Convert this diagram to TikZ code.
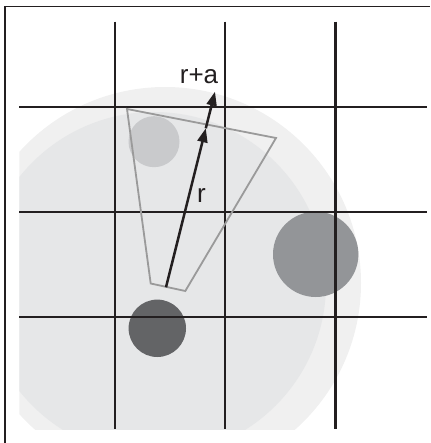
\documentclass[tikz,border=0pt]{standalone}
\usepackage{fontspec}
\setmainfont{Liberation Sans}
\usepackage{tikz}
\usetikzlibrary{arrows.meta}
\definecolor{ink}{HTML}{231F20}
\definecolor{haloout}{HTML}{F0F0F0}
\definecolor{haloin}{HTML}{E6E7E8}
\definecolor{palegrey}{HTML}{C9CACC}
\definecolor{midgrey}{HTML}{939598}
\definecolor{darkgrey}{HTML}{636466}
\definecolor{wedgegrey}{HTML}{9A9A9A}

\begin{document}
\begin{tikzpicture}[x=1pt, y=-1pt,
  gridline/.style={draw=ink, line width=2.3pt},
  wedge/.style={draw=wedgegrey, line width=1.8pt, line join=miter},
  vec/.style={draw=ink, line width=2.5pt, -{Triangle[length=14pt, width=10pt]}},
  lab/.style={font=\fontsize{26}{30}\selectfont, text=ink, inner sep=0pt}]
\useasboundingbox (0,0) rectangle (430,443);
% frame
\draw[ink, line width=1.6pt] (4.7,443) -- (4.7,6.7) -- (430,6.7);
% halo discs, cut at the left and bottom
\begin{scope}
  \clip (19.3,0) rectangle (430,429.3);
  \fill[haloout] (165,283) circle[radius=196];
  \fill[haloin] (154,284) circle[radius=172];
\end{scope}
% particles
\fill[palegrey] (154,141.7) circle[radius=25.5];
\fill[midgrey] (315.7,254.3) circle[radius=42.7];
\fill[darkgrey] (157.3,328.3) circle[radius=28.7];
% grid
\foreach \gx in {114.7,225.3,335.5}
  \draw[gridline] (\gx,21.7) -- (\gx,429.3);
\foreach \gy in {106.7,212,316.7}
  \draw[gridline] (19.3,\gy) -- (427,\gy);
% cell wedge
\draw[wedge] (127,109) -- (276,138) -- (185.3,291) -- (150.7,283.5) -- cycle;
% vectors
\coordinate (orig) at (166,287.3);
\coordinate (rtip) at (205.8,128.3);
\coordinate (ratip) at (215,91.7);
\draw[vec] (orig) -- (rtip);
\draw[vec] (rtip) -- (ratip);
\node[lab, anchor=base] (rlab) at (201.5,203) {r};
\node[lab, anchor=base] (ralab) at (199,84) {r+a};
\end{tikzpicture}
\end{document}
